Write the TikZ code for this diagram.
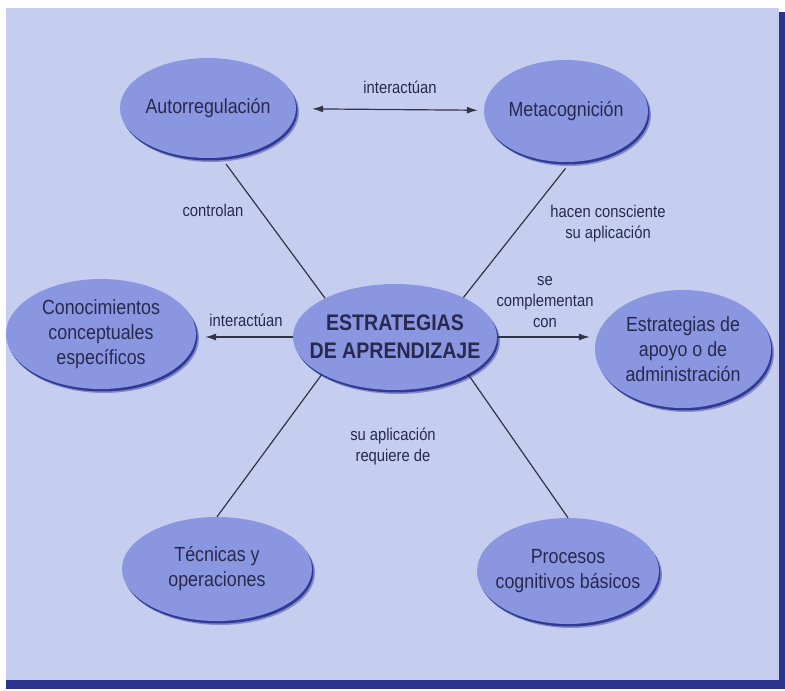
\documentclass[tikz,border=0pt]{standalone}
\usepackage{fontspec}
\setmainfont{Liberation Sans}[FakeStretch=0.87]
\usetikzlibrary{shapes.geometric,arrows.meta,shadows}

\definecolor{fondo}{RGB}{198,206,240}
\definecolor{borde}{RGB}{42,52,138}
\definecolor{burbuja}{RGB}{138,150,224}
\definecolor{sombra}{RGB}{48,58,150}
\definecolor{tinta}{RGB}{38,42,78}
\definecolor{linea}{RGB}{50,52,70}

\tikzset{
  concepto/.style={ellipse, fill=burbuja, inner xsep=-30pt, inner ysep=-10pt,
    text=tinta, align=center, font=\fontsize{20.5}{25}\selectfont,
    drop shadow={shadow xshift=3pt, shadow yshift=-4pt, fill=sombra, opacity=.45},
    drop shadow={shadow xshift=1.5pt, shadow yshift=-2.5pt, fill=sombra, opacity=1}},
  etiqueta/.style={text=tinta, align=center, font=\fontsize{17}{21}\selectfont},
  enlace/.style={draw=linea, line width=1.2pt},
  punta/.tip={Latex[length=11pt,width=7pt]},
}

\begin{document}
\begin{tikzpicture}[x=1pt,y=-1pt]
% \draw[step=50,gray,very thin] (0,0) grid (785,691);
\fill[white] (0,0) rectangle (785,691);
\fill[fondo] (6,8) rectangle (779,680);
\fill[borde] (779,12) rectangle (785,689);
\fill[borde] (6,680) rectangle (785,689);
\useasboundingbox (0,0) rectangle (785,691);

\node[concepto, minimum width=176, minimum height=100] (auto) at (208,108) {Autorregulación};
\node[concepto, minimum width=164, minimum height=102] (meta) at (566,111) {Metacognición};
\node[concepto, minimum width=204, minimum height=106,
      font=\fontsize{22.5}{28}\selectfont\bfseries] (centro) at (395,337) {ESTRATEGIAS\\DE APRENDIZAJE};
\node[concepto, minimum width=190, minimum height=110] (conoc) at (101,334) {Conocimientos\\conceptuales\\específicos};
\node[concepto, minimum width=176, minimum height=118] (apoyo) at (683,349) {Estrategias de\\apoyo o de\\administración};
\node[concepto, minimum width=190, minimum height=104] (tec) at (217,569) {Técnicas y\\operaciones};
\node[concepto, minimum width=182, minimum height=106] (proc) at (568,571) {Procesos\\cognitivos básicos};

\draw[enlace, punta-punta, shorten <=16pt, shorten >=6pt] (auto) -- (meta);
\draw[enlace, shorten <=8pt] (auto.-75) -- (centro.151);
\draw[enlace, shorten <=8pt] (meta.-85) -- (centro.30);
\draw[enlace, -punta, shorten >=9pt] (centro.west) -- (centro.west -| conoc.east);
\draw[enlace, -punta, shorten >=5pt] (centro.east) -- (centro.east -| apoyo.west);
\draw[enlace] (centro.207) -- (tec.north);
\draw[enlace] (centro.-27) -- (proc.north);

\node[etiqueta] (interSup) at (400,87) {interactúan};
\node[etiqueta] (controlan) at (213,210) {controlan};
\node[etiqueta] (conciencia) at (608,224) {hacen consciente\\su aplicación};
\node[etiqueta] (complementan) at (545,302) {se\\complementan\\con};
\node[etiqueta] (interIzq) at (246,320) {interactúan};
\node[etiqueta] (requiere) at (393,446) {su aplicación\\requiere de};
\end{tikzpicture}
\end{document}
